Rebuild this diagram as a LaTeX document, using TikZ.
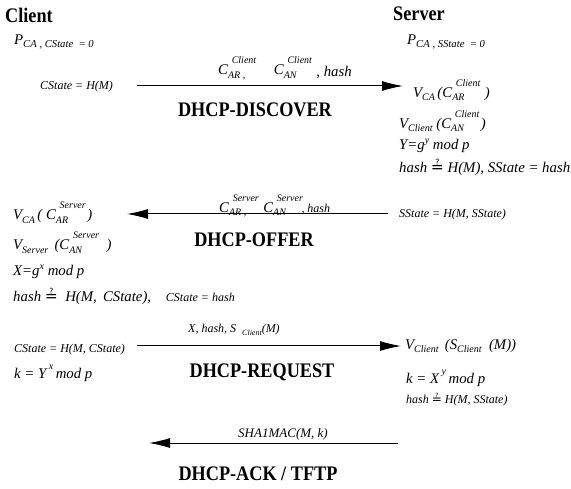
\documentclass[tikz,border=0pt]{standalone}
\usepackage{fontspec}
\setmainfont{Liberation Serif}[BoldFeatures={FakeStretch=0.88}]
\newfontfamily\symfont{DejaVu Sans}
\usepackage{relsize}
\usepackage{tikz}
\usetikzlibrary{arrows.meta}
\tikzstyle{party}=[font=\fontsize{20.7}{21}\selectfont\bfseries, anchor=west, inner sep=0pt]
\tikzstyle{msgname}=[font=\fontsize{20.7}{21}\selectfont\bfseries, inner sep=0pt]
\tikzstyle{work}=[font=\fontsize{14.8}{15}\selectfont\itshape, anchor=west, inner sep=0pt]
\tikzstyle{smallwork}=[font=\fontsize{12}{13}\selectfont\itshape, anchor=west, inner sep=0pt]
\tikzstyle{msg}=[draw, line width=1pt, -{Latex[length=21pt,width=10pt]}]
\newcommand{\lo}[2][0.66]{\raisebox{-0.25em}{\textscale{#1}{#2}}}
\newcommand{\hi}[1]{\raisebox{0.75em}{\textscale{0.7}{#1}}}
\newcommand{\up}[1]{\raisebox{0.42em}{\textscale{0.7}{#1}}}
\newcommand{\qeq}{{\symfont\upshape\textscale{1.05}{≟}}}
\newcommand{\subsup}[2]{\rlap{\lo{#1}}\hspace{0.25em}\hi{#2}}

\begin{document}
\begin{tikzpicture}[x=1pt,y=-1pt]
    \useasboundingbox (0,0) rectangle (571,489);

    % the two parties
    \node[party] (client) at (5,15) {Client};
    \node[party] (server) at (393,14) {Server};
    \node[work] (cinit) at (14,42) {P\lo[0.72]{CA , CState\ \ = 0}};
    \node[work] (sinit) at (407,42) {P\lo[0.72]{CA , SState\ \ = 0}};

    % end points of the messages
    \coordinate (disc1) at (137,86);
    \coordinate (disc2) at (403,86);
    \coordinate (off1) at (388,214);
    \coordinate (off2) at (127,214);
    \coordinate (req1) at (137,346);
    \coordinate (req2) at (401,346);
    \coordinate (ack1) at (398,443);
    \coordinate (ack2) at (149,443);
    \foreach \source/\dest in {disc1/disc2, off1/off2, req1/req2, ack1/ack2}
        \draw[msg] (\source) -- (\dest);

    % message names
    \node[msgname] (discover) at (255,110) {DHCP-DISCOVER};
    \node[msgname] (offer) at (254,240) {DHCP-OFFER};
    \node[msgname] (request) at (262,372) {DHCP-REQUEST};
    \node[msgname] (ack) at (258,474) {DHCP-ACK / TFTP};

    % what goes over the wire
    \node[work] (discpay) at (218,68) {C\subsup{AR ,}{Client}\hspace{1.2em}C\subsup{AN}{Client}\hspace{0.3em}\raisebox{-0.15em}{, hash}};
    \node[work] (offpay) at (219,206) {C\subsup{AR ,}{Server}\hspace{0.3em}C\rlap{\lo{AN}}\hspace{0.25em}\hi{Server}\hspace{-0.1em}\textscale{0.85}{, hash}};
    \node[smallwork] (reqpay) at (188,330) {X, hash, S\hspace{0.5em}\lo{Client}(M)};
    \node[smallwork, anchor=center, font=\fontsize{13}{13}\selectfont\itshape] (ackpay) at (283,434) {SHA1MAC(M, k)};

    % client side
    \node[smallwork] (c1) at (40,87) {CState = H(M)};
    \node[work] (c2) at (13,213) {V\lo{CA}\,( C\subsup{AR}{Server}\hspace{0.1em})};
    \node[work] (c3) at (13,243) {V\lo{Server}\ \,(C\subsup{AN}{Server}\hspace{0.5em})};
    \node[work] (c4) at (13,272) {X=g\up{x}\ mod p};
    \node[work] (c5) at (13,296) {hash\ \qeq\ \ H(M,\ \,CState),\hspace{1em}{\fontsize{12}{13}\selectfont CState = hash}};
    \node[smallwork] (c6) at (14,350) {CState = H(M, CState)};
    \node[work] (c7) at (14,373) {k = Y\,\raisebox{0.6em}{\textscale{0.7}{x}}\,mod p};

    % server side
    \node[work] (s1) at (413,90) {V\lo{CA}\,(C\subsup{AR}{Client}\hspace{0.3em})};
    \node[work] (s2) at (399,121) {V\lo{Client}\ (C\subsup{AN}{Client}\hspace{0.1em})};
    \node[work] (s3) at (399,146) {Y=g\up{y}\ mod p};
    \node[work] (s4) at (399,167) {hash \qeq\ H(M), SState = hash};
    \node[smallwork] (s5) at (399,215) {SState = H(M, SState)};
    \node[work] (s6) at (405,346) {V\lo{Client}\ \,(S\lo{Client}\hspace{0.5em}(M))};
    \node[work] (s7) at (406,378) {k = X\,\raisebox{0.6em}{\textscale{0.7}{y}}\,mod p};
    \node[smallwork] (s8) at (406,400) {hash \qeq\ H(M, SState)};
\end{tikzpicture}
\end{document}
